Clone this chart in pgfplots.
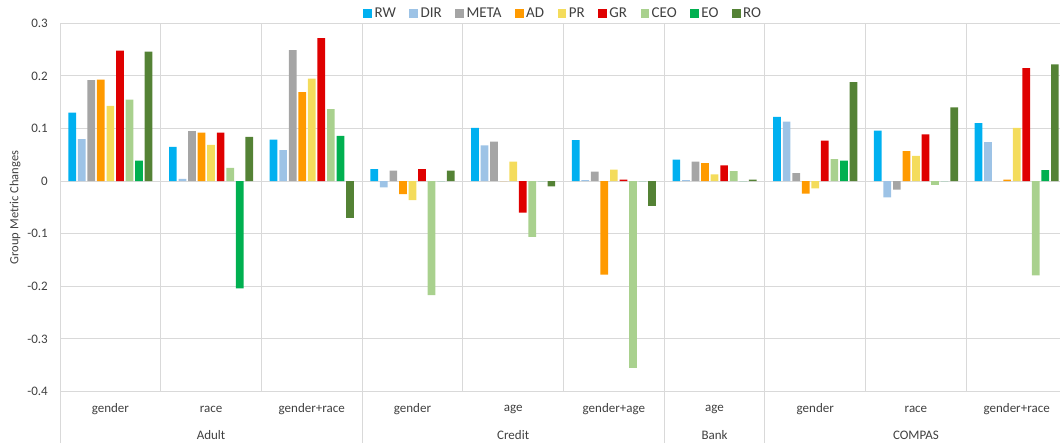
\documentclass[border=0pt]{standalone}
\usepackage{fontspec}
\setmainfont{Carlito}
\usepackage{pgfplots}
\usepackage{pgfplotstable}
\pgfplotsset{compat=1.18}
\definecolor{cRW}{HTML}{00B0F0}
\definecolor{cDIR}{HTML}{9DC3E6}
\definecolor{cMETA}{HTML}{A5A5A5}
\definecolor{cAD}{HTML}{FF9A00}
\definecolor{cPR}{HTML}{F4DC5C}
\definecolor{cGR}{HTML}{DF0000}
\definecolor{cCEO}{HTML}{A9D18E}
\definecolor{cEO}{HTML}{00B050}
\definecolor{cRO}{HTML}{548235}
\definecolor{gridc}{HTML}{D9D9D9}
\definecolor{txt}{HTML}{404040}
\pgfplotsset{sqleg/.style={legend image code/.code={\fill[##1] (0pt,-4.3pt) rectangle (8.7pt,4.3pt);}}}
\pgfplotstableread{
x RW DIR META AD PR GR CEO EO RO
0 0.130 0.080 0.192 0.193 0.143 0.248 0.155 0.039 0.246
1 0.065 0.004 0.095 0.092 0.069 0.092 0.025 -0.204 0.084
2 0.079 0.059 0.249 0.169 0.195 0.272 0.137 0.086 -0.070
3 0.023 -0.012 0.020 -0.025 -0.036 0.023 -0.217 0 0.020
4 0.101 0.068 0.075 0 0.037 -0.060 -0.106 0 -0.010
5 0.078 0.002 0.018 -0.178 0.022 0.003 -0.355 0 -0.047
6 0.041 0.002 0.037 0.034 0.013 0.030 0.019 0 0.003
7 0.122 0.113 0.015 -0.024 -0.014 0.077 0.042 0.039 0.188
8 0.096 -0.031 -0.016 0.057 0.048 0.089 -0.007 0 0.140
9 0.110 0.074 0 0.003 0.101 0.215 -0.179 0.021 0.222
}\datatable
\begin{document}
\begin{tikzpicture}
\begin{axis}[
  at={(60pt,50.5pt)}, anchor=south west,
  x=100.7pt, y=526pt,
  xmin=-0.5, xmax=9.5, ymin=-0.4, ymax=0.3,
  clip=false,
  ybar=1.85pt, bar width=7.7pt,
  axis line style={draw=none},
  major tick length=0pt, minor tick length=0pt,
  ytick={-0.4,-0.3,-0.2,-0.1,0,0.1,0.2,0.3},
  yticklabels={-0.4,-0.3,-0.2,-0.1,0,0.1,0.2,0.3},
  yticklabel style={anchor=east, xshift=-8.7pt, font=\fontsize{13}{13}\selectfont, text=txt},
  xtick={0,1,2,3,4,5,6,7,8,9},
  xticklabels={gender,race,gender+race,gender,age,gender+age,age,gender,race,gender+race},
  xticklabel style={anchor=center, yshift=-17.5pt, font=\fontsize{13}{13}\selectfont, text=txt},
  minor xtick={-0.5,0.5,1.5,2.5,3.5,4.5,5.5,6.5,7.5,8.5,9.5},
  xminorgrids=true, xmajorgrids=false, ymajorgrids=true,
  minor grid style={gridc, line width=1pt},
  major grid style={gridc, line width=1pt},
  ylabel={\fontsize{12.5}{12.5}\selectfont Group Metric Changes},
  ylabel style={text=txt, at={(axis description cs:-0.0447,0.5)}, anchor=center},
  legend columns=-1,
  legend style={at={(0.5,1)}, anchor=center, yshift=9.5pt, draw=none, fill=none,
    font=\fontsize{15}{15}\selectfont, text=txt,
    nodes={inner ysep=1.5pt, inner xsep=2.5pt},
    /tikz/every even column/.append style={column sep=11pt}},
]
\addplot[sqleg, fill=cRW, draw=none] table[x=x, y=RW] {\datatable};
\addplot[sqleg, fill=cDIR, draw=none] table[x=x, y=DIR] {\datatable};
\addplot[sqleg, fill=cMETA, draw=none] table[x=x, y=META] {\datatable};
\addplot[sqleg, fill=cAD, draw=none] table[x=x, y=AD] {\datatable};
\addplot[sqleg, fill=cPR, draw=none] table[x=x, y=PR] {\datatable};
\addplot[sqleg, fill=cGR, draw=none] table[x=x, y=GR] {\datatable};
\addplot[sqleg, fill=cCEO, draw=none] table[x=x, y=CEO] {\datatable};
\addplot[sqleg, fill=cEO, draw=none] table[x=x, y=EO] {\datatable};
\addplot[sqleg, fill=cRO, draw=none] table[x=x, y=RO] {\datatable};
\legend{RW,DIR,META,AD,PR,GR,CEO,EO,RO}
\draw[gridc, line width=1pt] (axis cs:-0.5,-0.4) -- ([yshift=-52pt]axis cs:-0.5,-0.4);
\draw[gridc, line width=1pt] (axis cs:2.5,-0.4) -- ([yshift=-52pt]axis cs:2.5,-0.4);
\draw[gridc, line width=1pt] (axis cs:5.5,-0.4) -- ([yshift=-52pt]axis cs:5.5,-0.4);
\draw[gridc, line width=1pt] (axis cs:6.5,-0.4) -- ([yshift=-52pt]axis cs:6.5,-0.4);
\node[font=\fontsize{13}{13}\selectfont, text=txt, anchor=center] at ([yshift=-43.5pt]axis cs:1,-0.4) {Adult};
\node[font=\fontsize{13}{13}\selectfont, text=txt, anchor=center] at ([yshift=-43.5pt]axis cs:4,-0.4) {Credit};
\node[font=\fontsize{13}{13}\selectfont, text=txt, anchor=center] at ([yshift=-43.5pt]axis cs:6,-0.4) {Bank};
\node[font=\fontsize{13}{13}\selectfont, text=txt, anchor=center] at ([yshift=-43.5pt]axis cs:8,-0.4) {COMPAS};
\end{axis}
\pgfresetboundingbox
\useasboundingbox (0,0) rectangle (1060pt,442pt);
\end{tikzpicture}
\end{document}
